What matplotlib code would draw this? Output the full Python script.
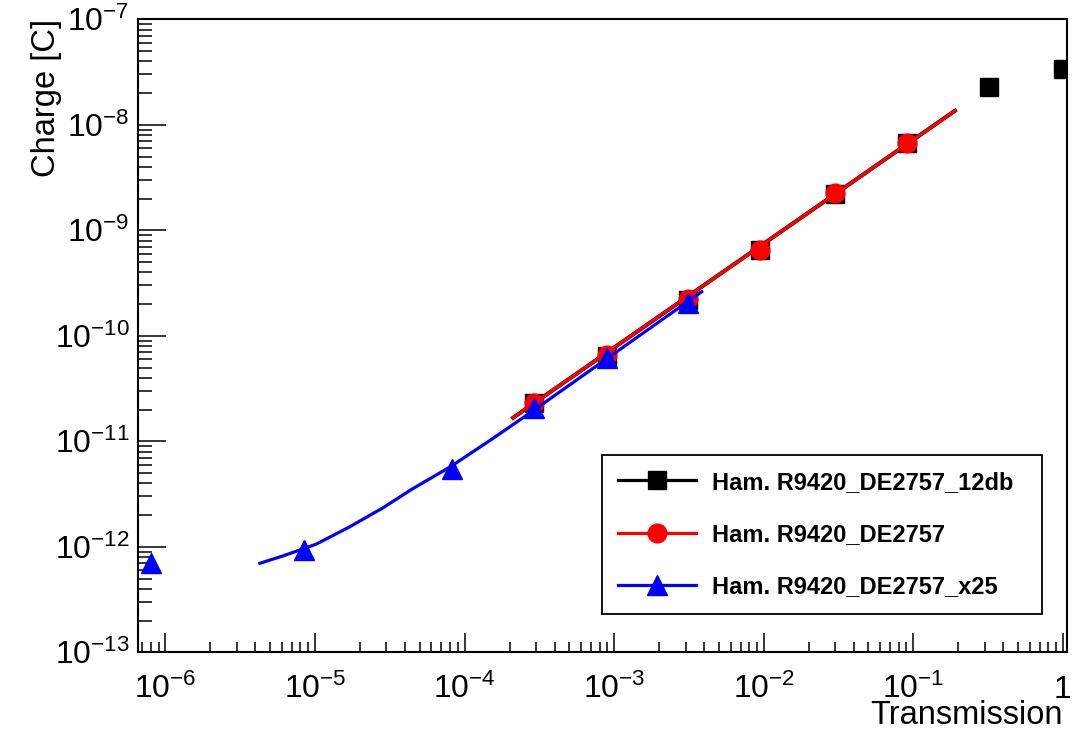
import numpy as np
import matplotlib
matplotlib.use("Agg")
from matplotlib import pyplot as plt
from matplotlib.ticker import FixedLocator, LogLocator, NullFormatter

# data
x_12db = [2.9e-4, 8.9e-4, 3.1e-3, 9.4e-3, 3.0e-2, 9.1e-2, 0.323, 1.0]
q_12db = [2.3e-11, 6.5e-11, 2.2e-10, 6.5e-10, 2.2e-9, 6.7e-9, 2.30e-8, 3.36e-8]

x_std = [2.9e-4, 8.9e-4, 3.1e-3, 9.4e-3, 3.0e-2, 9.1e-2]
q_std = [2.29e-11, 6.58e-11, 2.23e-10, 6.5e-10, 2.24e-9, 6.76e-9]

x_x25 = [8.0e-7, 8.5e-6, 8.2e-5, 2.9e-4, 8.9e-4, 3.1e-3]
q_x25 = [6.97e-13, 9.4e-13, 5.5e-12, 2.05e-11, 6.1e-11, 2.03e-10]

# fitted curves
fit_12db_x = [2.11e-4, 0.19]
fit_12db_q = [1.67e-11, 1.36e-8]
fit_std_x = [2.11e-4, 0.19]
fit_std_q = [1.67e-11, 1.36e-8]
fit_x25_x = [4.28e-6, 6.12e-6, 1.02e-5, 1.71e-5, 2.86e-5, 4.42e-5, 7.98e-5,
             1.48e-4, 2.74e-4, 3.85e-3]
fit_x25_q = [6.98e-13, 8.2e-13, 1.06e-12, 1.55e-12, 2.35e-12, 3.5e-12, 5.7e-12,
             1.02e-11, 1.86e-11, 2.62e-10]

labels = ["Ham. R9420_DE2757_12db", "Ham. R9420_DE2757", "Ham. R9420_DE2757_x25"]

plt.rcParams['font.family'] = ['Liberation Sans', 'DejaVu Sans']
plt.rcParams['mathtext.fontset'] = 'custom'
plt.rcParams['mathtext.rm'] = 'Liberation Sans'
plt.rcParams['mathtext.it'] = 'Liberation Sans:italic'
plt.rcParams['mathtext.bf'] = 'Liberation Sans:bold'

fig = plt.figure(figsize=(10.91, 7.29), dpi=100)
ax = fig.add_axes([0.1265, 0.1052, 0.8512, 0.8683])

ms = 13.5
lw = 2.3
# black series
ax.plot(x_12db, q_12db, ls='none', marker='s', ms=ms, color='black', zorder=2)
ax.plot(fit_12db_x, fit_12db_q, color='black', lw=lw + 0.6, zorder=2)
# red series
ax.plot(fit_std_x, fit_std_q, color='red', lw=lw, zorder=3)
ax.plot(x_std, q_std, ls='none', marker='o', ms=ms, color='red', zorder=3)
# blue series
ax.plot(fit_x25_x, fit_x25_q, color='blue', lw=lw, zorder=4)
ax.plot(x_x25, q_x25, ls='none', marker='^', ms=ms + 1, color='blue', zorder=4)

# legend proxies
h1, = ax.plot([], [], color='black', marker='s', ms=ms, lw=lw)
h2, = ax.plot([], [], color='red', marker='o', ms=ms, lw=lw)
h3, = ax.plot([], [], color='blue', marker='^', ms=ms + 1, lw=lw)

ax.set_xscale('log')
ax.set_yscale('log')
ax.set_xlim(6.56e-7, 1.06)
ax.set_ylim(1e-13, 1e-7)

xmaj = [1e-6, 1e-5, 1e-4, 1e-3, 1e-2, 1e-1, 1.0]
xlab = [r'$\mathregular{10^{-6}}$', r'$\mathregular{10^{-5}}$', r'$\mathregular{10^{-4}}$',
        r'$\mathregular{10^{-3}}$', r'$\mathregular{10^{-2}}$', r'$\mathregular{10^{-1}}$', '1']
ymaj = [1e-13, 1e-12, 1e-11, 1e-10, 1e-9, 1e-8, 1e-7]
ylab = [r'$\mathregular{10^{-%d}}$' % n for n in range(13, 6, -1)]

ax.xaxis.set_major_locator(FixedLocator(xmaj))
ax.set_xticklabels(xlab)
ax.yaxis.set_major_locator(FixedLocator(ymaj))
ax.set_yticklabels(ylab)
ax.xaxis.set_minor_locator(LogLocator(base=10, subs=np.arange(2, 10), numticks=20))
ax.yaxis.set_minor_locator(LogLocator(base=10, subs=np.arange(2, 10), numticks=20))
ax.xaxis.set_minor_formatter(NullFormatter())
ax.yaxis.set_minor_formatter(NullFormatter())

ax.tick_params(axis='both', which='both', direction='in', top=False, right=False,
               width=1.1, labelsize=23)
ax.tick_params(axis='x', which='major', length=14)
ax.tick_params(axis='x', which='minor', length=7)
ax.tick_params(axis='y', which='major', length=20, pad=6)
ax.tick_params(axis='y', which='minor', length=10)

for t in ax.xaxis.get_major_ticks():
    t.label1.set_va('baseline')
ax.tick_params(axis='x', which='major', pad=33)

for s in ax.spines.values():
    s.set_linewidth(1.5)

ax.set_xlabel('Transmission', fontsize=23.5, loc='right')
ax.set_ylabel('Charge [C]', fontsize=23.5, loc='top')
ax.xaxis.set_label_coords(0.996, -0.075)
ax.yaxis.set_label_coords(-0.082, 1.0)

leg = ax.legend([h1, h2, h3], labels, loc='upper left',
                bbox_to_anchor=(0.5, 0.0615, 0.4735, 0.2502), mode='expand',
                prop={'weight': 'bold', 'size': 17}, handlelength=3.3,
                handletextpad=0.7, labelspacing=1.24, borderpad=0.66,
                fancybox=False, framealpha=1, edgecolor='black', borderaxespad=0)
leg.get_frame().set_linewidth(1.3)

fig.savefig('out.png', dpi=100)
